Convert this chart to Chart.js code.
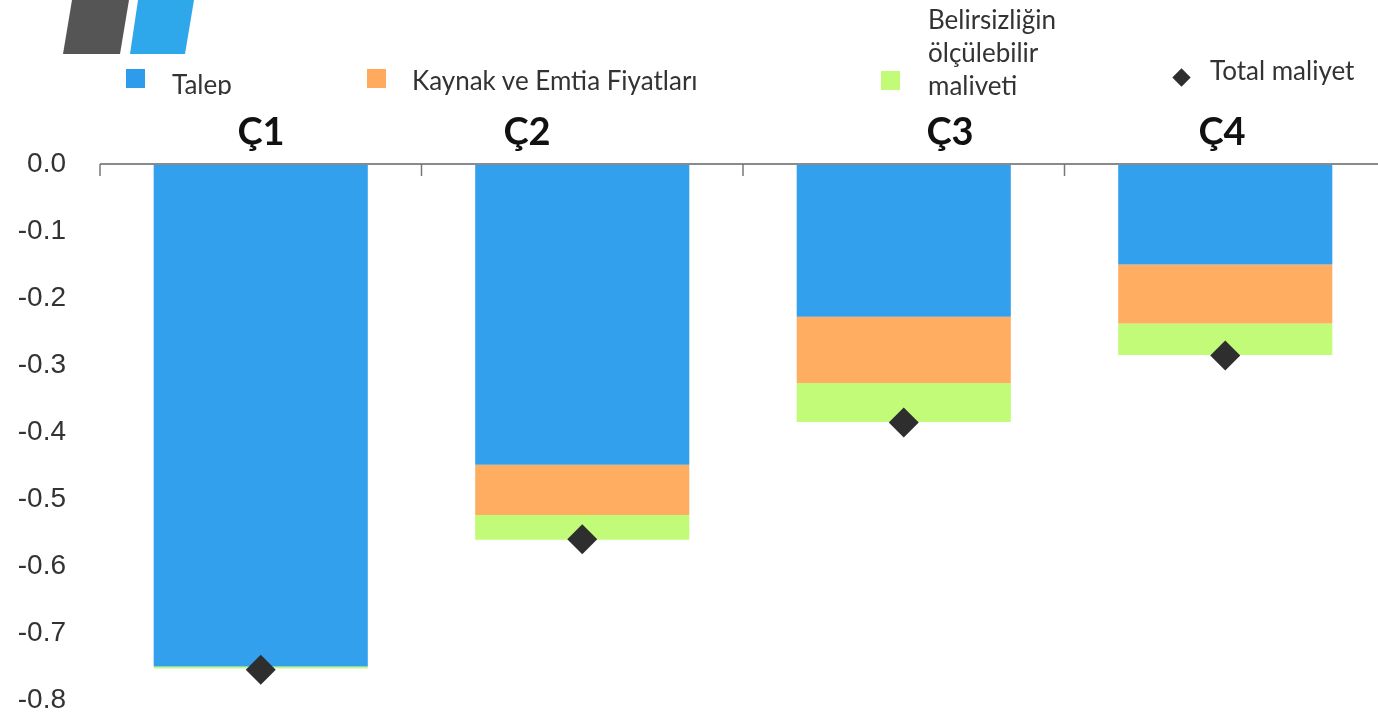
<!DOCTYPE html>
<html>
<head>
<meta charset="utf-8">
<script src="https://cdn.jsdelivr.net/npm/chart.js@4"></script>
<style>
  html, body { margin:0; padding:0; background:#fff; overflow:hidden; }
  #wrap { position:relative; width:1378px; height:718px; overflow:hidden; }
  #c { position:absolute; left:0; top:0; }
  .logo { position:absolute; top:0; height:54px; }
  .lg { position:absolute; font-family:Lato, "Open Sans", sans-serif; font-size:26px; line-height:26px; color:#333; white-space:nowrap; }
  .sw { position:absolute; width:19px; height:19px; }
  .dm { position:absolute; width:13px; height:13px; background:#2e2e2e; transform:rotate(45deg); }
  .cat { position:absolute; top:111px; font-family:Lato, "Open Sans", sans-serif; font-weight:bold; font-size:38px; line-height:38px; color:#111; transform:translateX(-50%); }
</style>
</head>
<body>
<div id="wrap">
  <canvas id="c" width="1386" height="718"></canvas>
  <div class="logo" style="left:63px;width:66px;background:#555;clip-path:polygon(9px 0,66px 0,57px 54px,0 54px);"></div>
  <div class="logo" style="left:130px;width:64px;background:#2EA8EA;clip-path:polygon(8px 0,64px 0,55px 54px,0 54px);"></div>

  <div class="sw" style="left:126px;top:69px;background:#2E9BEB;"></div>
  <div class="lg" style="left:172px;top:71px;height:24px;overflow:hidden;">Talep</div>
  <div class="sw" style="left:367px;top:69px;background:#FFAA5C;"></div>
  <div class="lg" style="left:412px;top:67px;height:28px;overflow:hidden;">Kaynak ve Emtia Fiyatları</div>
  <div class="sw" style="left:881px;top:71px;background:#C2FB78;"></div>
  <div class="lg" style="left:928px;top:3px;line-height:33px;height:97px;overflow:hidden;">Belirsizliğin<br>ölçülebilir<br>maliveti</div>
  <div class="dm" style="left:1175px;top:71px;"></div>
  <div class="lg" style="left:1210px;top:57px;">Total maliyet</div>
  <div id="cats"></div>
</div>
<script>
const categories = ["Ç1", "Ç2", "Ç3", "Ç4"];
const talep = [-0.750, -0.449, -0.228, -0.150];
const kaynak = [0.000, -0.075, -0.099, -0.088];
const belirsizlik = [-0.003, -0.037, -0.058, -0.047];
const toplam = [-0.755, -0.560, -0.386, -0.286];
const yTicks = [0.0, -0.1, -0.2, -0.3, -0.4, -0.5, -0.6, -0.7, -0.8];
const legendDiamond = "Total maliyet";
const catLabelX = [261, 527, 950, 1222];

const topAxis = {
  id: 'topAxis',
  afterDatasetsDraw(chart) {
    const {ctx, chartArea, scales} = chart;
    const y0 = scales.y.getPixelForValue(0);
    ctx.save();
    ctx.strokeStyle = '#8a8a8a';
    ctx.lineWidth = 2;
    ctx.beginPath();
    ctx.moveTo(chartArea.left, y0);
    ctx.lineTo(chartArea.right, y0);
    ctx.stroke();
    ctx.lineWidth = 1.5;
    ctx.strokeStyle = '#777';
    for (let i = 0; i < categories.length; i++) {
      const x = scales.x.getPixelForValue(i - 0.5);
      ctx.beginPath();
      ctx.moveTo(x, y0);
      ctx.lineTo(x, y0 + 12);
      ctx.stroke();
    }
    ctx.restore();
  }
};

const chart = new Chart(document.getElementById('c'), {
  data: {
    labels: categories,
    datasets: [
      { type:'line', label: legendDiamond, data: toplam, showLine:false, pointStyle:'rectRot',
        pointRadius:15, pointHoverRadius:15, backgroundColor:'#2e2e2e', borderColor:'#2e2e2e', borderWidth:0,
        stack:'total', order:0 },
      { type:'bar', label:'Talep', data: talep, backgroundColor:'#33A0EE', stack:'s', order:1 },
      { type:'bar', label:'Kaynak ve Emtia Fiyatları', data: kaynak, backgroundColor:'#FFAD60', stack:'s', order:1 },
      { type:'bar', label:'Belirsizliğin ölçülebilir maliveti', data: belirsizlik, backgroundColor:'#C2FB78', stack:'s', order:1 }
    ]
  },
  options: {
    responsive:false,
    animation:false,
    layout:{ autoPadding:false, padding:{ top:164, bottom:18, left:0, right:0 } },
    datasets:{ bar:{ categoryPercentage:1, barPercentage:0.666 } },
    plugins:{ legend:{ display:false }, tooltip:{ enabled:false } },
    scales:{
      x:{ type:'category', stacked:true, display:false, offset:true },
      y:{
        stacked:true, min:-0.8, max:0,
        afterBuildTicks(s){ s.ticks = yTicks.slice().sort((a,b)=>a-b).map(v => ({value:v})); },
        afterFit(s){ s.width = 100; s.paddingTop = 0; s.paddingBottom = 0; },
        grid:{ display:false, drawTicks:false },
        border:{ display:false },
        ticks:{ padding:34, color:'#333', font:{ family:'"Liberation Sans", Arial, sans-serif', size:28 },
          callback:(v) => Number(v).toFixed(1) }
      }
    }
  },
  plugins:[topAxis]
});

const catsEl = document.getElementById('cats');
categories.forEach((c, i) => {
  const d = document.createElement('div');
  d.className = 'cat';
  d.style.left = catLabelX[i] + 'px';
  d.textContent = c;
  catsEl.appendChild(d);
});
</script>
</body>
</html>
